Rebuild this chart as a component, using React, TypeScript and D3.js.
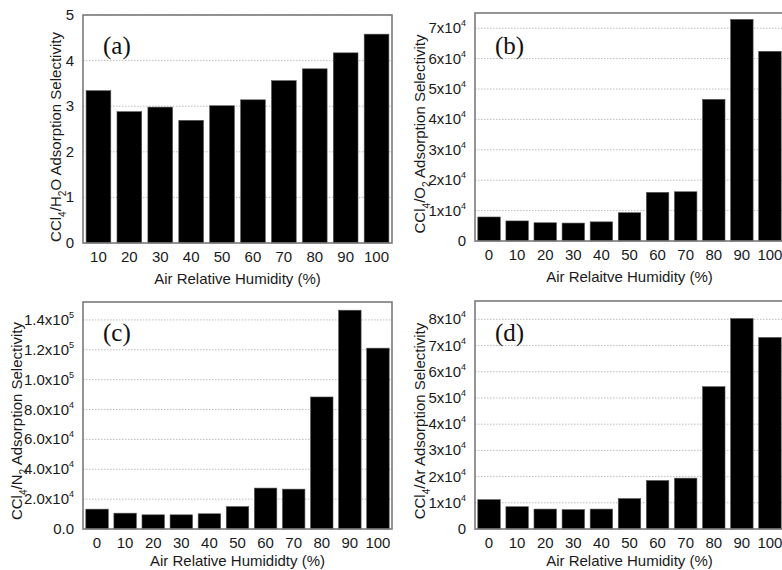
import React from "react";
import * as d3 from "d3";

// Relative humidity categories (%)
const humidityA: number[] = [10, 20, 30, 40, 50, 60, 70, 80, 90, 100];
const humidityBCD: number[] = [0, 10, 20, 30, 40, 50, 60, 70, 80, 90, 100];

// Adsorption selectivities
const selH2O: number[] = [3.34, 2.88, 2.98, 2.69, 3.01, 3.14, 3.56, 3.82, 4.17, 4.58];
const selO2: number[] = [7900, 6600, 6000, 5900, 6300, 9300, 16000, 16200, 46600, 72900, 62400];
const selN2: number[] = [13300, 10600, 9500, 9500, 10200, 15000, 27400, 26700, 88400, 146500, 121100];
const selAr: number[] = [11200, 8500, 7600, 7400, 7600, 11600, 18500, 19400, 54300, 80300, 73100];

// Y-axis tick values
const ticksA: number[] = [0, 1, 2, 3, 4, 5];
const ticksB: number[] = [0, 10000, 20000, 30000, 40000, 50000, 60000, 70000];
const ticksC: number[] = [0, 20000, 40000, 60000, 80000, 100000, 120000, 140000];
const ticksD: number[] = [0, 10000, 20000, 30000, 40000, 50000, 60000, 70000, 80000];

type Label = { base: string; exp?: string };
type Seg = { t: string; sub?: boolean };

const fmtPlain = (v: number): Label => ({ base: String(v) });
const fmtE4 = (v: number): Label => (v === 0 ? { base: "0" } : { base: `${v / 1e4}x10`, exp: "4" });
const fmtMixed = (v: number): Label => {
  if (v === 0) return { base: "0.0" };
  if (v < 1e5) return { base: `${(v / 1e4).toFixed(1)}x10`, exp: "4" };
  return { base: `${(v / 1e5).toFixed(1)}x10`, exp: "5" };
};

const FONT = "'Liberation Sans', Arial, Helvetica, sans-serif";
const SERIF = "'Liberation Serif', 'Times New Roman', serif";
const TEXT = "#1a1a1a";

function RichText({ segs, size }: { segs: Seg[]; size: number }) {
  const out: React.ReactNode[] = [];
  let shift = 0;
  segs.forEach((s, i) => {
    const target = s.sub ? size * 0.3 : 0;
    const dy = target - shift;
    shift = target;
    out.push(
      <tspan key={i} dy={dy} fontSize={s.sub ? size * 0.68 : size}>
        {s.t}
      </tspan>
    );
  });
  return <>{out}</>;
}

type PanelProps = {
  x0: number;
  x1: number;
  y0: number;
  y1: number;
  cats: number[];
  values: number[];
  yMax: number;
  ticks: number[];
  fmt: (v: number) => Label;
  yTitle: Seg[];
  yTitleX: number;
  yTitleCy: number;
  xTitle: string;
  xTitleY: number;
  letter: string;
  letterY: number;
};

function Panel(p: PanelProps) {
  const x = d3.scaleBand<number>().domain(p.cats).range([p.x0, p.x1]).paddingInner(0.2).paddingOuter(0.1);
  const y = d3.scaleLinear().domain([0, p.yMax]).range([p.y1, p.y0]);
  const fs = 15;
  return (
    <g>
      {/* dotted grid lines */}
      {p.ticks
        .filter((t) => t > 0)
        .map((t) => (
          <line
            key={`g${t}`}
            x1={p.x0}
            x2={p.x1}
            y1={y(t)}
            y2={y(t)}
            stroke="#bdbdbd"
            strokeWidth={1}
            strokeDasharray="1.5 1.5"
          />
        ))}
      {/* bars */}
      {p.values.map((v, i) => (
        <rect
          key={`b${i}`}
          x={x(p.cats[i])}
          y={y(v)}
          width={x.bandwidth()}
          height={p.y1 - y(v)}
          fill="#000"
          stroke="#555"
          strokeWidth={0.6}
        />
      ))}
      {/* frame */}
      <rect x={p.x0} y={p.y0} width={p.x1 - p.x0} height={p.y1 - p.y0} fill="none" stroke="#7a7a7a" strokeWidth={1.6} />
      {/* y tick labels */}
      {p.ticks.map((t) => {
        const l = p.fmt(t);
        return (
          <text
            key={`t${t}`}
            x={p.x0 - 9}
            y={y(t) + 5}
            textAnchor="end"
            fontFamily={FONT}
            fontSize={fs}
            fill={TEXT}
          >
            {l.base}
            {l.exp && (
              <tspan dy={-7} fontSize={9}>
                {l.exp}
              </tspan>
            )}
          </text>
        );
      })}
      {/* x tick labels */}
      {p.cats.map((c) => (
        <text
          key={`c${c}`}
          x={(x(c) as number) + x.bandwidth() / 2}
          y={p.y1 + 19}
          textAnchor="middle"
          fontFamily={FONT}
          fontSize={fs}
          fill={TEXT}
        >
          {c}
        </text>
      ))}
      {/* axis titles */}
      <text
        x={(p.x0 + p.x1) / 2}
        y={p.xTitleY}
        textAnchor="middle"
        fontFamily={FONT}
        fontSize={fs}
        fill={TEXT}
      >
        {p.xTitle}
      </text>
      <text
        transform={`translate(${p.yTitleX},${p.yTitleCy}) rotate(-90)`}
        textAnchor="middle"
        fontFamily={FONT}
        fontSize={fs}
        fill={TEXT}
      >
        <RichText segs={p.yTitle} size={fs} />
      </text>
      {/* panel letter */}
      <text x={p.x0 + 20} y={p.letterY} fontFamily={SERIF} fontSize={25} fill="#111">
        {p.letter}
      </text>
    </g>
  );
}

export default function App() {
  return (
    <svg
      width={782}
      height={570}
      viewBox="0 0 782 570"
      style={{ position: "absolute", left: 0, top: 0, background: "#fff" }}
    >
      <rect width={782} height={570} fill="#fff" />
      <Panel
        x0={83}
        x1={392}
        y0={15}
        y1={243}
        cats={humidityA}
        values={selH2O}
        yMax={5}
        ticks={ticksA}
        fmt={fmtPlain}
        yTitle={[{ t: "CCl" }, { t: "4", sub: true }, { t: "/H" }, { t: "2", sub: true }, { t: "O Adsorption Selectivity" }]}
        yTitleX={61}
        yTitleCy={137}
        xTitle="Air Relative Humidity (%)"
        xTitleY={284}
        letter="(a)"
        letterY={54}
      />
      <Panel
        x0={475}
        x1={784}
        y0={13}
        y1={241}
        cats={humidityBCD}
        values={selO2}
        yMax={75000}
        ticks={ticksB}
        fmt={fmtE4}
        yTitle={[{ t: "CCl" }, { t: "4", sub: true }, { t: "/O" }, { t: "2", sub: true }, { t: " Adsorption Selectivity" }]}
        yTitleX={425}
        yTitleCy={134}
        xTitle="Air Relaitve Humidity (%)"
        xTitleY={282}
        letter="(b)"
        letterY={54}
      />
      <Panel
        x0={83}
        x1={392}
        y0={302}
        y1={529}
        cats={humidityBCD}
        values={selN2}
        yMax={152000}
        ticks={ticksC}
        fmt={fmtMixed}
        yTitle={[{ t: "CCl" }, { t: "4", sub: true }, { t: "/N" }, { t: "2", sub: true }, { t: " Adsorption Selectivity" }]}
        yTitleX={22}
        yTitleCy={421}
        xTitle="Air Relative Humididty (%)"
        xTitleY={566}
        letter="(c)"
        letterY={341}
      />
      <Panel
        x0={475}
        x1={784}
        y0={301}
        y1={529}
        cats={humidityBCD}
        values={selAr}
        yMax={87000}
        ticks={ticksD}
        fmt={fmtE4}
        yTitle={[{ t: "CCl" }, { t: "4", sub: true }, { t: "/Ar Adsorption Selectivity" }]}
        yTitleX={425}
        yTitleCy={421}
        xTitle="Air Relative Humidity (%)"
        xTitleY={566}
        letter="(d)"
        letterY={341}
      />
    </svg>
  );
}
